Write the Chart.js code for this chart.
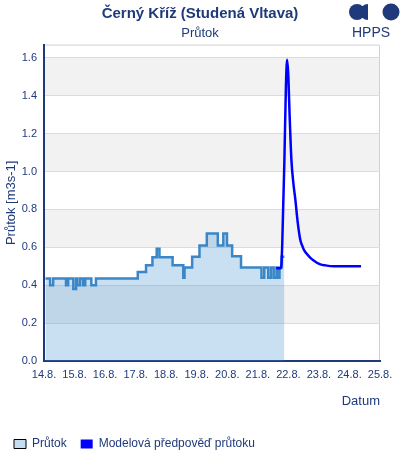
<!DOCTYPE html>
<html>
<head>
<meta charset="utf-8">
<script src="https://cdn.jsdelivr.net/npm/chart.js@4/dist/chart.umd.min.js"></script>
<style>
  body { margin: 0; background: #fff; }
  #wrap { position: relative; width: 400px; height: 460px; }
  #logo { position: absolute; top: 2px; left: 347px; width: 54px; text-align: center; }
  #logo span { display: block; font: 14px "Liberation Sans", Arial, sans-serif; color: #1f3a7a; margin-top: -2px; margin-left: -6px; }
</style>
</head>
<body>
<div id="wrap">
  <canvas id="flowChart"></canvas>
  <div id="logo">
    <svg width="54" height="20" viewBox="0 0 54 20">
      <circle cx="10" cy="10" r="8" fill="#1f3a7a"/>
      <path d="M21 2 A8 8 0 0 0 21 18 Z" fill="#1f3a7a"/>
      <circle cx="44" cy="10" r="8.5" fill="#1f3a7a"/>
    </svg>
    <span>HPPS</span>
  </div>
</div>
<script>
// days counted from 14.8. 00:00
const dayLabels = ["14.8.", "15.8.", "16.8.", "17.8.", "18.8.", "19.8.", "20.8.", "21.8.", "22.8.", "23.8.", "24.8.", "25.8."];

// measured flow (step changes)
const obsDays = [0.05, 0.20, 0.30, 0.72, 0.79, 0.96, 1.05, 1.09, 1.18, 1.28, 1.35, 1.55, 1.70,
  3.07, 3.34, 3.55, 3.69, 3.78, 4.21, 4.56, 4.60, 4.85, 5.09, 5.33, 5.69, 5.87, 5.99,
  6.16, 6.45, 7.12, 7.21, 7.34, 7.43, 7.52, 7.61, 7.65, 7.71, 7.78, 7.87];
const obsFlow = [0.435, 0.40, 0.435, 0.40, 0.435, 0.38, 0.435, 0.40, 0.435, 0.40, 0.435, 0.40, 0.435,
  0.47, 0.505, 0.547, 0.593, 0.547, 0.505, 0.44, 0.493, 0.55, 0.61, 0.673, 0.61, 0.673, 0.61,
  0.553, 0.493, 0.44, 0.493, 0.44, 0.493, 0.44, 0.493, 0.44, 0.493, 0.55, 0.55];

// model forecast
const fcDays = [7.60, 7.76, 7.80, 7.87, 7.92, 7.96, 8.00, 8.04, 8.10, 8.17, 8.23, 8.30, 8.39,
  8.45, 8.50, 8.58, 8.66, 8.75, 8.83, 8.92, 9.05, 9.20, 9.49, 10.38];
const fcFlow = [0.49, 0.49, 0.62, 1.06, 1.45, 1.59, 1.50, 1.30, 1.06, 0.93, 0.85, 0.74, 0.64,
  0.61, 0.59, 0.57, 0.555, 0.54, 0.53, 0.52, 0.51, 0.505, 0.50, 0.50];

const textColor = "#1f3a7a";
const fontFamily = '"Liberation Sans", Arial, sans-serif';

const bandsPlugin = {
  id: "bands",
  beforeDraw(chart) {
    const { ctx, chartArea } = chart;
    const y = chart.scales.y;
    ctx.save();
    ctx.fillStyle = "#f2f2f2";
    y.ticks.forEach((t, i) => {
      if (i % 2 === 1 && y.ticks[i + 1]) {
        const top = y.getPixelForValue(y.ticks[i + 1].value);
        const bottom = y.getPixelForValue(t.value);
        ctx.fillRect(chartArea.left, top, chartArea.right - chartArea.left, bottom - top);
      }
    });
    ctx.strokeStyle = "#d0d0d0";
    ctx.lineWidth = 1;
    ctx.beginPath();
    ctx.moveTo(chartArea.left, chartArea.top + 0.5);
    ctx.lineTo(chartArea.right - 0.5, chartArea.top + 0.5);
    ctx.lineTo(chartArea.right - 0.5, chartArea.bottom);
    ctx.stroke();
    ctx.restore();
  },
};

const ctx = document.getElementById("flowChart").getContext("2d");
new Chart(ctx, {
  type: "line",
  data: {
    datasets: [
      {
        label: "Průtok",
        data: obsDays.map((d, i) => ({ x: d, y: obsFlow[i] })),
        borderColor: "#3a86c6",
        backgroundColor: "rgba(60, 140, 210, 0.28)",
        borderWidth: 2.5,
        stepped: true,
        fill: "origin",
        pointRadius: 0,
        order: 1,
      },
      {
        label: "Modelová předpověď průtoku",
        data: fcDays.map((d, i) => ({ x: d, y: fcFlow[i] })),
        borderColor: "#0000ff",
        backgroundColor: "#0000ff",
        borderWidth: 2.5,
        cubicInterpolationMode: "monotone",
        fill: false,
        pointRadius: 0,
        order: 0,
      },
    ],
  },
  options: {
    responsive: true,
    maintainAspectRatio: false,
    animation: false,
    layout: { padding: { left: 0, right: 0, top: 0, bottom: 0 } },
    scales: {
      x: {
        type: "linear",
        min: 0,
        max: 11,
        afterFit: (scale) => { scale.height = 63; },
        grid: { display: false, drawTicks: false },
        border: { color: textColor, width: 2 },
        ticks: {
          stepSize: 1,
          padding: 7,
          maxRotation: 0,
          color: textColor,
          font: { family: fontFamily, size: 11 },
          callback: (v) => dayLabels[v],
        },
        title: {
          display: true,
          text: "Datum",
          align: "end",
          color: textColor,
          font: { family: fontFamily, size: 13 },
          padding: { top: 15, bottom: 15 },
        },
      },
      y: {
        min: 0,
        max: 1.67,
        afterFit: (scale) => { scale.width = 44; },
        grid: { color: "#dcdcdc", drawTicks: false },
        border: { color: textColor, width: 2 },
        ticks: {
          stepSize: 0.2,
          includeBounds: false,
          padding: 7,
          color: textColor,
          font: { family: fontFamily, size: 11 },
          callback: (v) => v.toFixed(1),
        },
        title: {
          display: true,
          text: "Průtok [m3s-1]",
          color: textColor,
          font: { family: fontFamily, size: 13 },
          padding: { top: 4, bottom: 4 },
        },
      },
      // empty right margin so the plot ends at 380px
      yRight: {
        position: "right",
        afterFit: (scale) => { scale.width = 20; },
        grid: { display: false, drawTicks: false },
        border: { display: false },
        ticks: { display: false },
      },
    },
    plugins: {
      title: {
        display: true,
        text: "Černý Kříž (Studená Vltava)",
        color: textColor,
        font: { family: fontFamily, size: 15, weight: "bold" },
        padding: { top: 5, bottom: 3 },
      },
      subtitle: {
        display: true,
        text: "Průtok",
        color: textColor,
        font: { family: fontFamily, size: 13 },
        padding: { top: 0, bottom: 3 },
      },
      legend: {
        position: "bottom",
        align: "start",
        labels: {
          color: textColor,
          font: { family: fontFamily, size: 12 },
          boxWidth: 12,
          boxHeight: 9,
          padding: 14,
          sort: (a, b) => a.datasetIndex - b.datasetIndex,
          generateLabels: (chart) => {
            const items = Chart.defaults.plugins.legend.labels.generateLabels(chart);
            items.forEach((it) => {
              if (it.datasetIndex === 0) {
                it.fillStyle = "#c6dcf0";
                it.strokeStyle = "#000";
                it.lineWidth = 1;
              } else {
                it.fillStyle = "#0000ff";
                it.strokeStyle = "#0000ff";
                it.lineWidth = 0;
              }
            });
            return items;
          },
        },
      },
      tooltip: { enabled: false },
    },
  },
  plugins: [bandsPlugin],
});
</script>
</body>
</html>
